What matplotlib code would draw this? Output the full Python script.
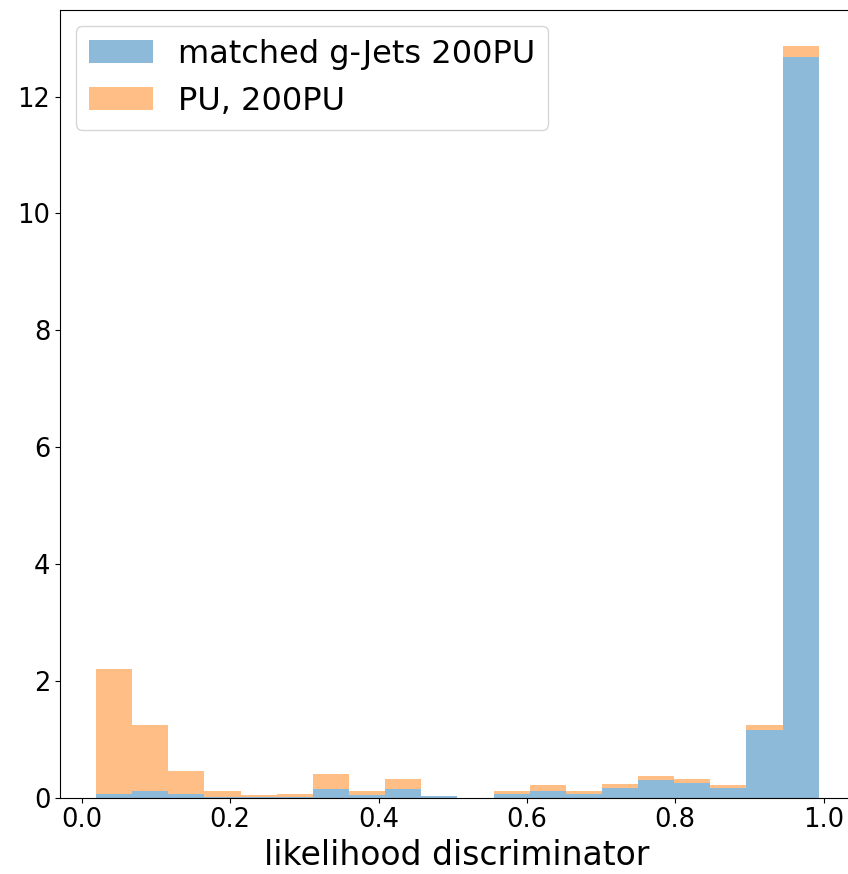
import numpy as np
import matplotlib
matplotlib.use("Agg")
import matplotlib.pyplot as plt

# bin range (data min / max) and number of bins
x_min, x_max, n_bins = 0.0193, 0.9934, 20

# per-bin heights
matched_gjets = [0.06, 0.106, 0.06, 0.01, 0.01, 0.01, 0.15, 0.04, 0.15, 0.02,
                 0.0, 0.06, 0.12, 0.06, 0.17, 0.30, 0.25, 0.17, 1.16, 12.67]
pu_200 = [2.14, 1.13, 0.39, 0.11, 0.025, 0.05, 0.26, 0.066, 0.17, 0.0,
          0.0, 0.046, 0.09, 0.046, 0.066, 0.07, 0.07, 0.04, 0.08, 0.20]

labels = ["matched g-Jets 200PU", "PU, 200PU"]
xlabel = "likelihood discriminator"
xticks = [0.0, 0.2, 0.4, 0.6, 0.8, 1.0]
yticks = [0, 2, 4, 6, 8, 10, 12]

edges = np.linspace(x_min, x_max, n_bins + 1)
centers = 0.5 * (edges[:-1] + edges[1:])

fig = plt.figure(figsize=(8.48, 8.74), dpi=100)
ax = fig.add_axes([0.0708, 0.0875, 0.935, 0.901])
ax.hist([centers, centers], bins=edges, weights=[matched_gjets, pu_200],
        stacked=True, alpha=0.5, color=["#1f77b4", "#ff7f0e"], label=labels)
ax.set_xlim(-0.0293, 1.0395)
ax.set_ylim(0, 13.48)
ax.set_xticks(xticks)
ax.set_yticks(yticks)
ax.tick_params(labelsize=18.5)
ax.set_xlabel(xlabel, fontsize=23.8, labelpad=4)
ax.legend(loc="upper left", fontsize=23)
fig.savefig("out.png", dpi=100)
